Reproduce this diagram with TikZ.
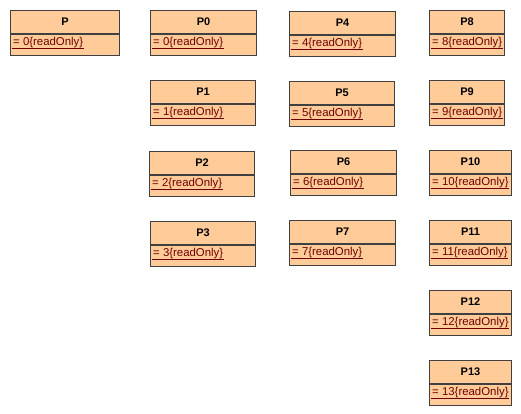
\documentclass[tikz,border=0pt]{standalone}
\usepackage{fontspec}
\setmainfont{Liberation Sans}
\definecolor{boxfill}{HTML}{FFCC99}
\definecolor{boxline}{HTML}{404040}
\definecolor{valtext}{HTML}{700000}
\tikzset{
  hdr/.style={draw=boxline, fill=boxfill, line width=1pt, anchor=north west, inner sep=0pt,
    font=\fontsize{11}{13}\selectfont\bfseries, text=black, align=center},
  bdy/.style={draw=boxline, fill=boxfill, line width=1pt, anchor=north west, inner sep=0pt},
  val/.style={anchor=base west, inner sep=0pt, font=\fontsize{11.4}{13}\selectfont, text=valtext},
  uline/.style={draw=valtext, line width=1pt}
}
\newcommand\umlbox[6]{%
  \pgfmathsetmacro\bw{#4-#2}%
  \pgfmathsetmacro\bh{#5-#3-23}%
  \node[hdr, minimum width=\bw pt, minimum height=23pt] (#1-h) at (#2pt,-#3pt) {#1};
  \node[bdy, minimum width=\bw pt, minimum height=\bh pt] (#1-b) at (#1-h.south west) {};
  \node[val] (#1-v) at ([xshift=3pt,yshift=-11.8pt]#1-b.north west) {= #6\{readOnly\}};
  \coordinate (#1-u1) at ([xshift=-1pt,yshift=-3pt]#1-v.base west);
  \coordinate (#1-u2) at ([xshift=0.5pt,yshift=-3pt]#1-v.base east);
  \draw[uline] (#1-u1) -- (#1-u2);
}
\begin{document}
\begin{tikzpicture}[x=1pt,y=1pt]
\useasboundingbox (0,0) rectangle (521,-414);
\umlbox{P}{10}{10}{119}{54}{0}
\umlbox{P0}{150}{10}{256}{54}{0}
\umlbox{P1}{150}{80}{255}{124}{1}
\umlbox{P2}{149}{151}{254}{195}{2}
\umlbox{P3}{150}{221}{255}{265}{3}
\umlbox{P4}{289}{11}{395}{55}{4}
\umlbox{P5}{289}{81}{394}{125}{5}
\umlbox{P6}{290}{150}{396}{194}{6}
\umlbox{P7}{289}{220}{395}{264}{7}
\umlbox{P8}{429}{10}{504}{54}{8}
\umlbox{P9}{429}{80}{504}{124}{9}
\umlbox{P10}{429}{150}{511}{194}{10}
\umlbox{P11}{429}{220}{511}{264}{11}
\umlbox{P12}{429}{290}{511}{334}{12}
\umlbox{P13}{429}{360}{511}{404}{13}
\end{tikzpicture}
\end{document}
